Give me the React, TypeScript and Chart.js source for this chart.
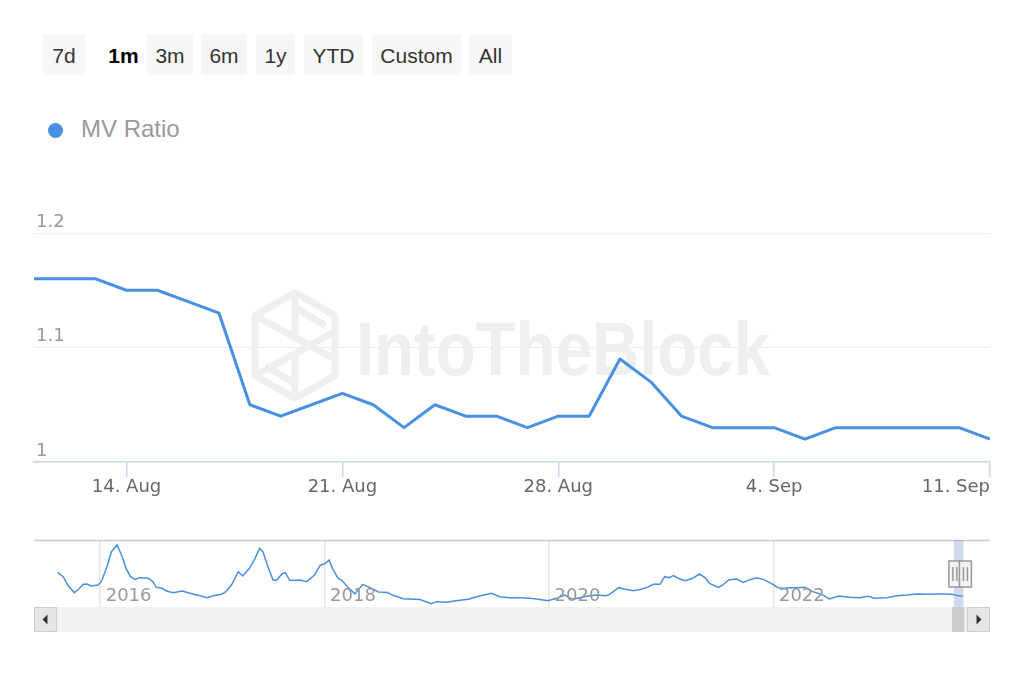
import React, { useEffect, useRef } from 'react';
import { Chart, registerables } from 'chart.js';

Chart.register(...registerables);

// ---------- data ----------
const dates = [
  '2023-08-11', '2023-08-12', '2023-08-13', '2023-08-14', '2023-08-15', '2023-08-16', '2023-08-17',
  '2023-08-18', '2023-08-19', '2023-08-20', '2023-08-21', '2023-08-22', '2023-08-23', '2023-08-24',
  '2023-08-25', '2023-08-26', '2023-08-27', '2023-08-28', '2023-08-29', '2023-08-30', '2023-08-31',
  '2023-09-01', '2023-09-02', '2023-09-03', '2023-09-04', '2023-09-05', '2023-09-06', '2023-09-07',
  '2023-09-08', '2023-09-09', '2023-09-10', '2023-09-11',
];
const mvRatio = [
  1.16, 1.16, 1.16, 1.15, 1.15, 1.14, 1.13,
  1.05, 1.04, 1.05, 1.06, 1.05, 1.03, 1.05,
  1.04, 1.04, 1.03, 1.04, 1.04, 1.09, 1.07,
  1.04, 1.03, 1.03, 1.03, 1.02, 1.03, 1.03,
  1.03, 1.03, 1.03, 1.02,
];
const xTickDates = ['2023-08-14', '2023-08-21', '2023-08-28', '2023-09-04', '2023-09-11'];
const xTickLabels = ['14. Aug', '21. Aug', '28. Aug', '4. Sep', '11. Sep'];
const yTickValues = [1, 1.1, 1.2];
const yTickLabels = ['1', '1.1', '1.2'];
const seriesName = 'MV Ratio';

const rangeButtons = ['7d', '1m', '3m', '6m', '1y', 'YTD', 'Custom', 'All'];
const selectedRange = '1m';

// navigator (full history, decimal years)
const navYears = [
  2015.62, 2015.67, 2015.71, 2015.77, 2015.80, 2015.85, 2015.88, 2015.92, 2015.98, 2016.01,
  2016.06, 2016.10, 2016.15, 2016.19, 2016.23, 2016.27, 2016.31, 2016.35, 2016.43, 2016.47,
  2016.50, 2016.55, 2016.59, 2016.65, 2016.73, 2016.80, 2016.89, 2016.95, 2017.01, 2017.08,
  2017.12, 2017.17, 2017.23, 2017.27, 2017.33, 2017.38, 2017.42, 2017.45, 2017.50, 2017.54,
  2017.57, 2017.62, 2017.65, 2017.69, 2017.78, 2017.84, 2017.91, 2017.96, 2018.00, 2018.04,
  2018.07, 2018.12, 2018.15, 2018.21, 2018.27, 2018.34, 2018.40, 2018.48, 2018.56, 2018.61,
  2018.70, 2018.85, 2018.95, 2019.00, 2019.09, 2019.17, 2019.28, 2019.39, 2019.49, 2019.56,
  2019.65, 2019.74, 2019.83, 2019.89, 2019.99, 2020.07, 2020.14, 2020.21, 2020.27, 2020.36,
  2020.42, 2020.51, 2020.54, 2020.62, 2020.67, 2020.75, 2020.82, 2020.87, 2020.93, 2020.99,
  2021.03, 2021.07, 2021.11, 2021.15, 2021.21, 2021.28, 2021.34, 2021.39, 2021.43, 2021.51,
  2021.55, 2021.60, 2021.67, 2021.73, 2021.79, 2021.85, 2021.91, 2021.98, 2022.04, 2022.09,
  2022.15, 2022.21, 2022.28, 2022.35, 2022.43, 2022.50, 2022.58, 2022.68, 2022.77, 2022.84,
  2022.90, 2023.01, 2023.10, 2023.19, 2023.27, 2023.36, 2023.45, 2023.53, 2023.59, 2023.65,
  2023.69,
];
const navValues = [
  2.44, 2.18, 1.68, 1.22, 1.38, 1.72, 1.74, 1.62, 1.68, 1.88,
  2.78, 3.68, 4.08, 3.48, 2.68, 2.18, 2.02, 2.12, 2.08, 1.88,
  1.54, 1.48, 1.32, 1.22, 1.32, 1.18, 1.04, 0.92, 1.04, 1.12,
  1.28, 1.68, 2.48, 2.22, 2.68, 3.28, 3.88, 3.68, 2.68, 1.98,
  1.95, 2.34, 2.42, 1.95, 1.98, 1.88, 2.28, 2.86, 2.95, 3.18,
  2.68, 2.08, 1.98, 1.53, 1.15, 1.72, 1.54, 1.26, 1.23, 1.06,
  0.85, 0.81, 0.56, 0.68, 0.64, 0.73, 0.82, 1.03, 1.18, 0.98,
  0.92, 0.92, 0.88, 0.84, 0.74, 0.88, 1.08, 0.82, 0.92, 1.04,
  1.08, 1.04, 1.12, 1.52, 1.44, 1.34, 1.42, 1.52, 1.72, 1.72,
  2.18, 2.12, 2.24, 2.08, 1.94, 2.08, 2.34, 2.12, 1.78, 1.54,
  1.68, 1.98, 2.04, 1.84, 2.00, 2.12, 2.02, 1.78, 1.52, 1.48,
  1.52, 1.52, 1.54, 1.28, 1.12, 0.84, 1.02, 0.94, 0.92, 1.00,
  0.88, 0.92, 1.04, 1.08, 1.14, 1.12, 1.14, 1.14, 1.12, 1.04,
  1.02,
];
const navTickYears = [2016, 2018, 2020, 2022];
const navXMin = 2015.41;
const navXMax = 2023.93;
const navYMin = 0.36;
const navYMax = 4.32;

// ---------- helpers ----------
const DAY = 86400000;
const dayIndex = (d: string) => (Date.parse(d) - Date.parse(dates[0])) / DAY;
const decimalYear = (d: string) => {
  const t = Date.parse(d);
  const y = new Date(t).getUTCFullYear();
  return y + (t - Date.UTC(y, 0, 1)) / (365 * DAY);
};

const LINE = '#4a90e2';
const AXIS_FONT = '"DejaVu Sans", sans-serif';

const buttonLayout: Array<[number, number]> = [
  [43, 42], [100, 47], [147, 46], [201, 46], [256, 39], [304, 59], [372, 89], [469, 43],
];

const watermarkPlugin = {
  id: 'watermark',
  beforeDraw(chart: any) {
    const { ctx, chartArea } = chart;
    const cx = (chartArea.left + chartArea.right) / 2;
    const cy = (chartArea.top + chartArea.bottom) / 2;
    ctx.save();
    const col = '#eeefef';
    // logo
    const lx = cx - 217;
    const ly = cy - 2;
    const hex = [[0, -53], [40, -30], [40, 30], [0, 53], [-40, 30], [-40, -30]];
    ctx.strokeStyle = col;
    ctx.lineWidth = 7;
    ctx.lineJoin = 'round';
    ctx.beginPath();
    hex.forEach(([a, b], i) => (i ? ctx.lineTo(lx + a, ly + b) : ctx.moveTo(lx + a, ly + b)));
    ctx.closePath();
    ctx.stroke();
    ctx.beginPath();
    ctx.moveTo(lx, ly - 53); ctx.lineTo(lx, ly - 8);
    ctx.moveTo(lx, ly + 8); ctx.lineTo(lx, ly + 53);
    ctx.moveTo(lx - 40, ly - 30); ctx.lineTo(lx + 40, ly + 14);
    ctx.moveTo(lx + 40, ly - 14); ctx.lineTo(lx - 40, ly + 30);
    ctx.moveTo(lx, ly - 38); ctx.lineTo(lx + 30, ly - 20);
    ctx.moveTo(lx, ly + 38); ctx.lineTo(lx - 30, ly + 20);
    ctx.stroke();
    // text
    ctx.font = 'bold 76px "Liberation Sans", sans-serif';
    const w = ctx.measureText('IntoTheBlock').width;
    ctx.translate(cx - 156, cy + 27.5);
    ctx.scale(414 / w, 1);
    ctx.fillStyle = col;
    ctx.textBaseline = 'alphabetic';
    ctx.fillText('IntoTheBlock', 0, 0);
    ctx.restore();
  },
};

const rangeStart = decimalYear(dates[0]);
const rangeEnd = decimalYear(dates[dates.length - 1]);

const navigatorPlugin = {
  id: 'navDecor',
  afterDatasetsDraw(chart: any) {
    const { ctx, chartArea, scales } = chart;
    const { left, right, top, bottom } = chartArea;
    const x = scales.x;
    ctx.save();
    // year labels
    ctx.font = '18px ' + AXIS_FONT;
    ctx.fillStyle = '#999999';
    ctx.textBaseline = 'alphabetic';
    ctx.textAlign = 'left';
    navTickYears.forEach((yr) => ctx.fillText(String(yr), x.getPixelForValue(yr) + 5.5, bottom - 6));
    // top outline
    ctx.strokeStyle = '#cccccc';
    ctx.lineWidth = 1.5;
    ctx.beginPath();
    ctx.moveTo(left, top - 0.5);
    ctx.lineTo(right, top - 0.5);
    ctx.stroke();
    // selected range mask
    const s = x.getPixelForValue(rangeStart);
    const e = x.getPixelForValue(rangeEnd);
    ctx.fillStyle = 'rgba(102,133,194,0.3)';
    ctx.fillRect(s, top - 1, e - s, bottom - top + 1);
    // handles
    const drawHandle = (c: number) => {
      const hw = 12, hh = 26, hy = top + 20;
      ctx.fillStyle = '#f2f2f2';
      ctx.strokeStyle = '#999999';
      ctx.lineWidth = 1.5;
      ctx.fillRect(c - hw / 2, hy, hw, hh);
      ctx.strokeRect(c - hw / 2, hy, hw, hh);
      ctx.beginPath();
      ctx.moveTo(c - 2, hy + 6); ctx.lineTo(c - 2, hy + hh - 6);
      ctx.moveTo(c + 2, hy + 6); ctx.lineTo(c + 2, hy + hh - 6);
      ctx.stroke();
    };
    drawHandle(s + 1);
    drawHandle(e + 2);
    // scrollbar
    const sy = bottom, sh = 25, bw = 23;
    ctx.fillStyle = '#f2f2f2';
    ctx.fillRect(left, sy, right - left, sh);
    ctx.fillStyle = '#cccccc';
    ctx.fillRect(s - 2, sy, Math.max(e - s + 3, 8), sh);
    const drawBtn = (bx: number, dir: number) => {
      ctx.fillStyle = '#e6e6e6';
      ctx.fillRect(bx, sy, bw, sh);
      ctx.strokeStyle = '#cccccc';
      ctx.lineWidth = 1;
      ctx.strokeRect(bx + 0.5, sy + 0.5, bw - 1, sh - 1);
      const cxb = bx + bw / 2, cyb = sy + sh / 2;
      ctx.fillStyle = '#333333';
      ctx.beginPath();
      ctx.moveTo(cxb - 3 * dir, cyb);
      ctx.lineTo(cxb + 2 * dir, cyb - 5);
      ctx.lineTo(cxb + 2 * dir, cyb + 5);
      ctx.closePath();
      ctx.fill();
    };
    drawBtn(left, 1);
    drawBtn(right - bw, -1);
    ctx.restore();
  },
};

export default function App() {
  const mainRef = useRef<HTMLCanvasElement>(null);
  const navRef = useRef<HTMLCanvasElement>(null);

  useEffect(() => {
    const xTickValues = xTickDates.map(dayIndex);
    const main = new Chart(mainRef.current as HTMLCanvasElement, {
      type: 'line',
      data: {
        datasets: [
          {
            label: seriesName,
            data: dates.map((d, i) => ({ x: dayIndex(d), y: mvRatio[i] })),
            borderColor: LINE,
            backgroundColor: LINE,
            borderWidth: 3,
            pointRadius: 0,
            tension: 0,
            fill: false,
            borderJoinStyle: 'round',
          },
        ],
      },
      options: {
        responsive: false,
        animation: false,
        events: [],
        layout: { padding: { left: 34, right: 34, top: 83, bottom: 0 } },
        plugins: { legend: { display: false }, tooltip: { enabled: false } },
        scales: {
          x: {
            type: 'linear',
            min: 0,
            max: dayIndex(dates[dates.length - 1]),
            afterBuildTicks: (scale: any) => {
              scale.ticks = [0, ...xTickValues].map((v) => ({ value: v }));
            },
            afterFit: (scale: any) => {
              scale.height = 48;
            },
            grid: {
              drawOnChartArea: false,
              drawTicks: true,
              tickLength: 15,
              lineWidth: 1.5,
              color: (c: any) => (c.tick && c.tick.value === 0 ? 'rgba(0,0,0,0)' : '#ccd6eb'),
              tickColor: (c: any) => (c.tick && c.tick.value === 0 ? 'rgba(0,0,0,0)' : '#ccd6eb'),
            },
            border: { display: true, color: '#ccd6eb', width: 1.5 },
            ticks: {
              autoSkip: false,
              maxRotation: 0,
              align: 'inner',
              padding: 0,
              color: '#666666',
              font: { family: AXIS_FONT, size: 18 },
              callback: (v: any) => {
                const i = xTickValues.indexOf(Number(v));
                return i >= 0 ? xTickLabels[i] : '';
              },
            },
          },
          y: {
            type: 'linear',
            min: yTickValues[0],
            max: yTickValues[yTickValues.length - 1],
            afterBuildTicks: (scale: any) => {
              scale.ticks = yTickValues.map((v) => ({ value: v }));
            },
            afterFit: (scale: any) => {
              scale.width = 0;
            },
            grid: {
              drawTicks: false,
              lineWidth: 1,
              color: (c: any) => (c.tick && c.tick.value === yTickValues[0] ? 'rgba(0,0,0,0)' : '#eeeeee'),
            },
            border: { display: false },
            ticks: {
              mirror: true,
              padding: 2,
              labelOffset: -11,
              color: '#999999',
              font: { family: AXIS_FONT, size: 18 },
              callback: (v: any) => {
                const i = yTickValues.indexOf(Number(v));
                return i >= 0 ? yTickLabels[i] : '';
              },
            },
          },
        },
      } as any,
      plugins: [watermarkPlugin],
    });

    const nav = new Chart(navRef.current as HTMLCanvasElement, {
      type: 'line',
      data: {
        datasets: [
          {
            data: navYears.map((yr, i) => ({ x: yr, y: navValues[i] })),
            borderColor: LINE,
            borderWidth: 1.5,
            pointRadius: 0,
            tension: 0,
            fill: false,
          },
        ],
      },
      options: {
        responsive: false,
        animation: false,
        events: [],
        layout: { padding: { left: 34, right: 34, top: 6, bottom: 28 } },
        plugins: { legend: { display: false }, tooltip: { enabled: false } },
        scales: {
          x: {
            type: 'linear',
            min: navXMin,
            max: navXMax,
            afterBuildTicks: (scale: any) => {
              scale.ticks = navTickYears.map((v) => ({ value: v }));
            },
            afterFit: (scale: any) => {
              scale.height = 0;
            },
            grid: { drawTicks: false, color: '#e6e6e6', lineWidth: 1.5 },
            border: { display: false },
            ticks: { display: false },
          },
          y: {
            display: false,
            min: navYMin,
            max: navYMax,
          },
        },
      } as any,
      plugins: [navigatorPlugin],
    });

    return () => {
      main.destroy();
      nav.destroy();
    };
  }, []);

  return (
    <div
      style={{
        position: 'absolute',
        left: 0,
        top: 0,
        width: 1024,
        height: 683,
        background: '#ffffff',
        overflow: 'hidden',
        fontFamily: '"Liberation Sans", Arial, sans-serif',
      }}
    >
      {rangeButtons.map((b, i) => {
        const sel = b === selectedRange;
        return (
          <div
            key={b}
            style={{
              position: 'absolute',
              left: buttonLayout[i][0],
              top: 34,
              width: buttonLayout[i][1],
              height: 41,
              lineHeight: '44px',
              textAlign: 'center',
              fontSize: 21,
              background: sel ? 'transparent' : '#f7f7f7',
              borderRadius: 3,
              color: sel ? '#000000' : '#333333',
              fontWeight: sel ? 700 : 400,
            }}
          >
            {b}
          </div>
        );
      })}
      <div
        style={{
          position: 'absolute',
          left: 48,
          top: 123,
          width: 15,
          height: 15,
          borderRadius: '50%',
          background: LINE,
        }}
      />
      <div
        style={{
          position: 'absolute',
          left: 81,
          top: 117,
          fontSize: 24,
          lineHeight: '24px',
          color: '#999999',
          whiteSpace: 'nowrap',
        }}
      >
        {seriesName}
      </div>
      <canvas
        ref={mainRef}
        width={1024}
        height={360}
        style={{ position: 'absolute', left: 0, top: 150, width: 1024, height: 360 }}
      />
      <canvas
        ref={navRef}
        width={1024}
        height={100}
        style={{ position: 'absolute', left: 0, top: 535, width: 1024, height: 100 }}
      />
    </div>
  );
}
